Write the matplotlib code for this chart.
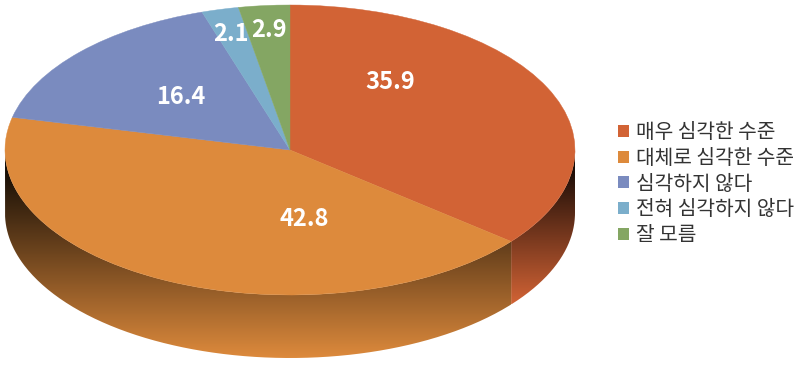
import numpy as np
import matplotlib
matplotlib.use("Agg")
import matplotlib.pyplot as plt
from matplotlib.colors import to_rgb
from matplotlib.patches import Patch, PathPatch
from matplotlib.path import Path

categories = ["매우 심각한 수준", "대체로 심각한 수준", "심각하지 않다", "전혀 심각하지 않다", "잘 모름"]
values = [35.9, 42.8, 16.4, 2.1, 2.9]
colors = ["#D26335", "#DD8A3C", "#7A8BBF", "#7BAECB", "#84A663"]
value_labels = ["35.9", "42.8", "16.4", "2.1", "2.9"]

W, H = 800, 365
CX, CY, RX, RY, DEPTH = 290, 150, 285, 145, 63
# label anchors in figure pixels
label_px = [(390, 82), (304, 219), (181, 97), (231, 34), (269, 30)]

plt.rcParams["font.family"] = ["Noto Sans CJK KR", "DejaVu Sans"]
fig = plt.figure(figsize=(W / 100, H / 100), dpi=100, facecolor="white")
ax = fig.add_axes([0, 0, 1, 1])

xlim = (-CX / RX, (W - CX) / RX)
ylim = (-(H - CY) / RY, CY / RY)
depth = DEPTH / RY

wedges, _ = ax.pie(values, colors=colors, startangle=90, counterclock=False, radius=1,
                   center=(0, 0), wedgeprops=dict(linewidth=0.3, zorder=3), frame=True)
for w, c in zip(wedges, colors):
    w.set_edgecolor(c)

# side wall: one gradient per slice on the visible lower half
fracs = np.array(values) / sum(values)
edges = np.concatenate([[0], np.cumsum(fracs)]) * 2 * np.pi  # clockwise from the top
for start, end, c in zip(edges[:-1], edges[1:], colors):
    a, b = max(start, np.pi / 2), min(end, 3 * np.pi / 2)
    if a >= b:
        continue
    t = np.linspace(a, b, 200)
    x, y = np.sin(t), np.cos(t)
    verts = np.r_[np.c_[x, y], np.c_[x[::-1], y[::-1] - depth], [[x[0], y[0]]]]
    path = Path(verts)
    rgb = np.array(to_rgb(c))
    top, bottom = 0.0, y.min() - depth
    ramp = np.linspace(0, 1, 256)[:, None, None] * rgb[None, None, :]
    im = ax.imshow(ramp, extent=(x.min(), x.max(), bottom, top), origin="upper",
                   aspect="auto", zorder=1, interpolation="bilinear")
    clip = PathPatch(path, transform=ax.transData, fc="none", ec="none")
    ax.add_patch(clip)
    im.set_clip_path(clip)

# value labels
for (px, py), s in zip(label_px, value_labels):
    ax.text(px / W, 1 - py / H, s, transform=fig.transFigure, color="white", fontsize=17,
            fontweight="bold", family="Noto Sans CJK KR", ha="center", va="center", zorder=5)

ax.set_xlim(*xlim)
ax.set_ylim(*ylim)
ax.set_aspect("auto")
ax.axis("off")

handles = [Patch(facecolor=c, edgecolor="none", label=l) for c, l in zip(colors, categories)]
ax.legend(handles=handles, loc="center left", bbox_to_anchor=(618 / W, 1 - 184 / H),
          bbox_transform=fig.transFigure, frameon=False, fontsize=14.6, handlelength=0.55,
          handleheight=0.55, handletextpad=0.35, labelspacing=0.23, borderpad=0, borderaxespad=0,
          labelcolor="#333333")

fig.savefig("out.png", dpi=100, facecolor="white")
